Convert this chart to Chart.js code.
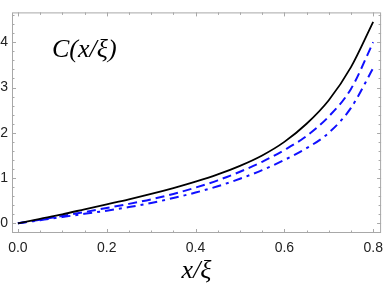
<!DOCTYPE html>
<html>
<head>
<meta charset="utf-8">
<script src="https://cdn.jsdelivr.net/npm/chart.js@4"></script>
<style>
  html, body { margin: 0; padding: 0; background: #fff; }
  #wrap { width: 390px; height: 292px; }
</style>
</head>
<body>
<div id="wrap"><canvas id="corr"></canvas></div>
<script>
// values
const xs = [0, 0.05, 0.1, 0.15, 0.2, 0.25, 0.3, 0.35, 0.4, 0.45, 0.5, 0.55, 0.6, 0.65, 0.7, 0.75, 0.8];
const solidC = [0, 0.1, 0.2, 0.31, 0.42, 0.53, 0.65, 0.78, 0.92, 1.08, 1.27, 1.5, 1.8, 2.2, 2.72, 3.45, 4.45];
const dashedC = [0, 0.08, 0.165, 0.25, 0.34, 0.43, 0.53, 0.65, 0.79, 0.95, 1.14, 1.36, 1.62, 1.93, 2.36, 2.97, 4.0];
const dotDashedC = [0, 0.07, 0.14, 0.21, 0.28, 0.36, 0.45, 0.56, 0.68, 0.82, 0.985, 1.175, 1.4, 1.66, 2.0, 2.55, 3.43];

const xTicks = [0, 0.2, 0.4, 0.6, 0.8];
const xMinor = [0.05, 0.1, 0.15, 0.25, 0.3, 0.35, 0.45, 0.5, 0.55, 0.65, 0.7, 0.75];
const yTicks = [0, 1, 2, 3, 4];
const yMinor = [0.2, 0.4, 0.6, 0.8, 1.2, 1.4, 1.6, 1.8, 2.2, 2.4, 2.6, 2.8, 3.2, 3.4, 3.6, 3.8, 4.2, 4.4, 4.6];

const toPts = (ys) => xs.map((x, i) => ({ x: x, y: ys[i] }));

// Mathematica-style frame with inward ticks on all four sides
const frameTicks = {
  id: 'frameTicks',
  beforeDatasetsDraw(chart) {
    const { ctx, chartArea: a, scales: { x, y } } = chart;
    ctx.save();
    ctx.strokeStyle = '#a8a8a8';
    ctx.lineWidth = 1;
    ctx.strokeRect(a.left + 0.5, a.top + 0.5, a.right - a.left - 1, a.bottom - a.top - 1);
    ctx.beginPath();
    const tx = (v, len) => {
      const px = Math.round(x.getPixelForValue(v)) + 0.5;
      ctx.moveTo(px, a.bottom); ctx.lineTo(px, a.bottom - len);
      ctx.moveTo(px, a.top); ctx.lineTo(px, a.top + len);
    };
    const ty = (v, len) => {
      const py = Math.round(y.getPixelForValue(v)) + 0.5;
      ctx.moveTo(a.left, py); ctx.lineTo(a.left + len, py);
      ctx.moveTo(a.right, py); ctx.lineTo(a.right - len, py);
    };
    xTicks.forEach(v => tx(v, 4));
    xMinor.forEach(v => tx(v, 2.5));
    yTicks.forEach(v => ty(v, 4));
    yMinor.forEach(v => ty(v, 2.5));
    ctx.stroke();
    ctx.restore();
  },
  afterDraw(chart) {
    const { ctx } = chart;
    ctx.save();
    ctx.fillStyle = '#000';
    ctx.font = 'italic 26px "Liberation Serif", serif';
    ctx.textBaseline = 'alphabetic';
    ctx.fillText('C(x/ξ)', 52, 57);
    ctx.restore();
  }
};

new Chart(document.getElementById('corr'), {
  type: 'line',
  data: {
    datasets: [
      {
        data: toPts(solidC),
        borderColor: '#000',
        borderWidth: 1.8,
        cubicInterpolationMode: 'monotone'
      },
      {
        data: toPts(dashedC),
        borderColor: '#1010ff',
        borderWidth: 2,
        borderDash: [9, 5],
        cubicInterpolationMode: 'monotone'
      },
      {
        data: toPts(dotDashedC),
        borderColor: '#1010ff',
        borderWidth: 2,
        borderDash: [9, 5, 3, 5],
        cubicInterpolationMode: 'monotone'
      }
    ]
  },
  options: {
    responsive: true,
    maintainAspectRatio: false,
    animation: false,
    layout: { padding: { top: 4, right: 4, left: 0, bottom: 0 } },
    elements: { point: { radius: 0 } },
    plugins: { legend: { display: false }, tooltip: { enabled: false } },
    scales: {
      x: {
        type: 'linear',
        min: -0.0133,
        max: 0.8178,
        afterBuildTicks: (s) => { s.ticks = xTicks.map(v => ({ value: v })); },
        afterFit: (s) => { s.height = 59; },
        grid: { display: false, drawTicks: false },
        border: { display: false },
        ticks: {
          padding: 7,
          color: '#222',
          maxRotation: 0,
          font: { family: '"Liberation Sans", Arial, sans-serif', size: 14 },
          callback: (v) => v.toFixed(1)
        },
        title: {
          display: true,
          text: 'x/ξ',
          color: '#000',
          padding: { top: 0, bottom: 5 },
          font: { family: '"Liberation Serif", serif', size: 26, style: 'italic' }
        }
      },
      y: {
        type: 'linear',
        min: -0.213,
        max: 4.66,
        afterBuildTicks: (s) => { s.ticks = yTicks.map(v => ({ value: v })); },
        afterFit: (s) => { s.width = 12; },
        grid: { display: false, drawTicks: false },
        border: { display: false },
        ticks: {
          padding: 4,
          color: '#222',
          font: { family: '"Liberation Sans", Arial, sans-serif', size: 14 },
          callback: (v) => String(v)
        }
      }
    }
  },
  plugins: [frameTicks]
});
</script>
</body>
</html>
